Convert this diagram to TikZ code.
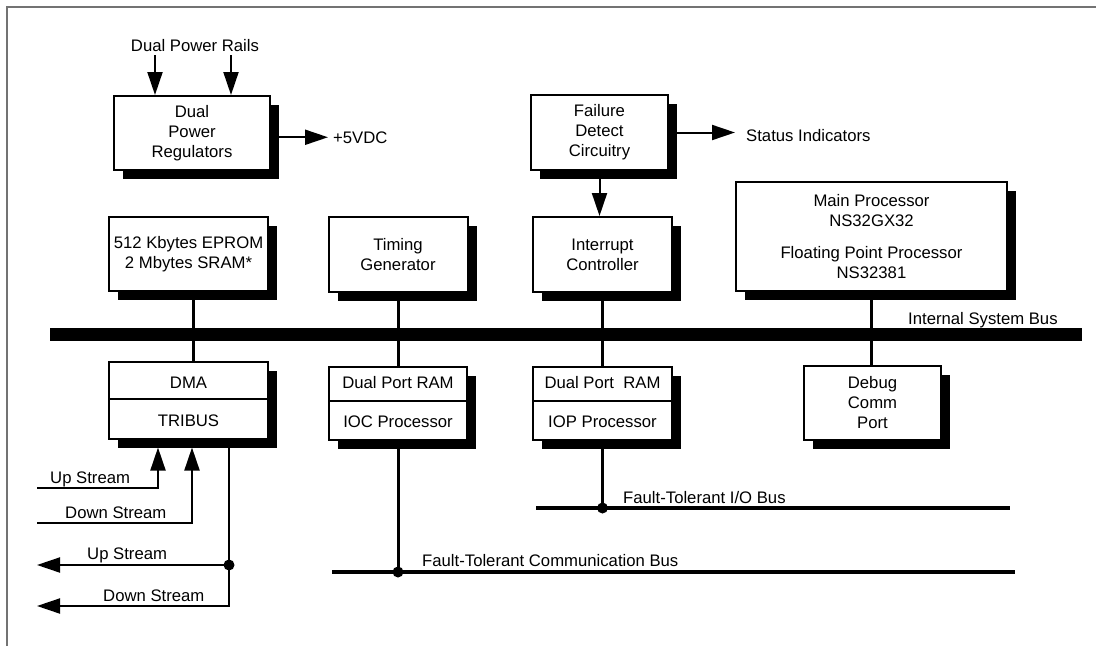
\documentclass[tikz,border=0pt]{standalone}
\usepackage{fontspec}
\setmainfont{Liberation Sans}
\usetikzlibrary{arrows.meta,shadows,calc}
\begin{document}
\begin{tikzpicture}[x=1pt,y=-1pt,
  font=\fontsize{16.7}{20}\selectfont,
  box/.style={draw, line width=2pt, fill=white, inner sep=0pt, align=center,
     drop shadow={shadow xshift=9pt, shadow yshift=-8.5pt, fill=black, opacity=1}},
  conn/.style={line width=3pt},
  busline/.style={line width=3.2pt},
  divider/.style={line width=2pt},
  arr/.style={line width=2pt, -{Triangle[length=23pt,width=15pt]}},
  lbl/.style={anchor=base west, inner sep=0pt},
  frame/.style={draw=black!55, line width=2pt}
]
\useasboundingbox (0,0) rectangle (1096,646);
\draw[frame] (7,646) -- (7,7) -- (1096,7);

% internal system bus
\node[fill=black, inner sep=0pt, outer sep=0pt, minimum width=1032pt, minimum height=13pt] (bus) at (566,334.5) {};
\node[lbl] (busl) at (908,324) {Internal System Bus};

% boxes
\node[box, minimum width=156pt, minimum height=74pt] (pwr) at (192,133) {Dual\\Power\\Regulators};
\node[box, minimum width=137pt, minimum height=75pt] (fail) at (599.5,132.5) {Failure\\Detect\\Circuitry};
\node[box, minimum width=159pt, minimum height=74pt] (eprom) at (188.5,254) {512 Kbytes EPROM\\2 Mbytes SRAM*};
\node[box, minimum width=139pt, minimum height=75pt] (timing) at (398,254.5) {Timing\\Generator};
\node[box, minimum width=139pt, minimum height=75pt] (intr) at (602.5,254.5) {Interrupt\\Controller};
\node[box, minimum width=271pt, minimum height=109pt] (main) at (871.5,236.5) {Main Processor\\NS32GX32\\[12pt]Floating Point Processor\\NS32381};
\node[box, minimum width=159pt, minimum height=77pt] (dma) at (188.5,400.5) {};
\node[box, minimum width=138pt, minimum height=73pt] (ioc) at (398,403.5) {};
\node[box, minimum width=139pt, minimum height=73pt] (iop) at (602.5,403.5) {};
\node[box, minimum width=137pt, minimum height=74pt] (debug) at (872.5,403) {Debug\\Comm\\Port};

% split boxes
\draw[divider] ($(dma.north west)+(0,38)$) -- ($(dma.north east)+(0,38)$);
\node (dmaA) at ($(dma.north)+(0,22)$) {DMA};
\node (dmaB) at ($(dma.south)+(0,-19)$) {TRIBUS};
\draw[divider] ($(ioc.north west)+(0,35)$) -- ($(ioc.north east)+(0,35)$);
\node (iocA) at ($(ioc.north)+(0,17)$) {Dual Port RAM};
\node (iocB) at ($(ioc.south)+(0,-19)$) {IOC Processor};
\draw[divider] ($(iop.north west)+(0,35)$) -- ($(iop.north east)+(0,35)$);
\node (iopA) at ($(iop.north)+(0,17)$) {Dual Port\ \ RAM};
\node (iopB) at ($(iop.south)+(0,-19)$) {IOP Processor};

% bus connectors
\draw[conn] ($(eprom.south)+(4.5,0)$) -- ($(dma.north)+(4.5,0)$);
\draw[conn] (timing.south) -- (ioc.north);
\draw[conn] (intr.south) -- (iop.north);
\draw[conn] (main.south) -- (main.south |- debug.north);

% fault-tolerant I/O bus
\coordinate (iobL) at (536,508);
\coordinate (iobR) at (1010,508);
\draw[busline] (iobL) -- (iobR);
\node[lbl] (iobl) at (623,503) {Fault-Tolerant I/O Bus};
\coordinate (iobJ) at (iop.south |- iobL);
\draw[conn] (iop.south) -- (iobJ);
\fill (iobJ) circle (5.5);

% fault-tolerant communication bus
\coordinate (cbL) at (332,572);
\coordinate (cbR) at (1015,572);
\draw[busline] (cbL) -- (cbR);
\node[lbl] (cbl) at (422,566) {Fault-Tolerant Communication Bus};
\coordinate (cbJ) at (ioc.south |- cbL);
\draw[conn] (ioc.south) -- (cbJ);
\fill (cbJ) circle (5.5);

% power
\node[anchor=base, inner sep=0pt] (rails) at (195,51) {Dual Power Rails};
\coordinate (r1) at (155,55);
\coordinate (r2) at (231,55);
\draw[arr] (r1) -- (r1 |- pwr.north);
\draw[arr] (r2) -- (r2 |- pwr.north);
\node[lbl] (vdc) at (333,143) {+5VDC};
\draw[arr] ($(pwr.east |- vdc.west)+(8,0)$) -- ($(vdc.west)+(-5,0)$);

% failure detect
\node[lbl] (stat) at (746,141) {Status Indicators};
\draw[arr] ($(fail.east)+(8,0)$) -- ($(fail.east -| stat.west)+(-11,0)$);
\draw[arr] ($(fail.south)+(0,7.5)$) -- (fail.south |- intr.north);

% DMA streams
\coordinate (usIn) at (37,488);
\coordinate (dsIn) at (37,523);
\coordinate (usOut) at (37,565);
\coordinate (dsOut) at (37,606);
\coordinate (usInE) at ($(dma.south)+(-30.5,7.5)$);
\coordinate (dsInE) at ($(dma.south)+(3.5,7.5)$);
\coordinate (outS) at ($(dma.south)+(40.5,7.5)$);
\draw[arr] (usIn) -| (usInE);
\draw[arr] (dsIn) -| (dsInE);
\draw[arr] (outS) |- (dsOut);
\coordinate (outJ) at (outS |- usOut);
\draw[arr] (outJ) -- (usOut);
\fill (outJ) circle (5.5);
\node[lbl] (usInL) at (50,483) {Up Stream};
\node[lbl] (dsInL) at (65,518) {Down Stream};
\node[lbl] (usOutL) at (87,559) {Up Stream};
\node[lbl] (dsOutL) at (103,601) {Down Stream};
\end{tikzpicture}
\end{document}
